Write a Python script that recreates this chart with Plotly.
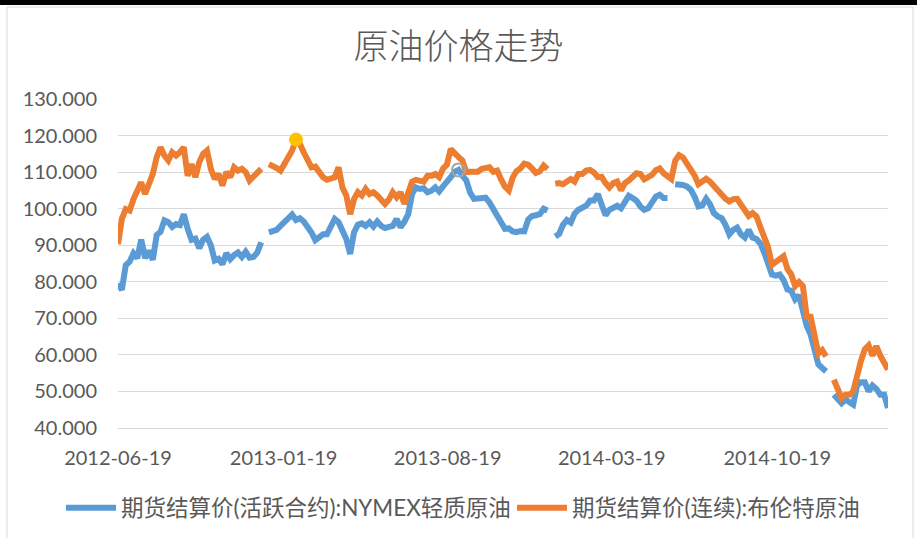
import plotly.graph_objects as go
import pandas as pd

# ---------------- data ----------------
START_DATE = "2012-06-19"
STEP_DAYS = 5

wti_nymex = [
    79.5, 77.8, 84.5, 85.5, 87.8, 86.5, 91.5, 86.5, 88.5, 86.0,
    92.8, 93.7, 96.8, 96.3, 95.0, 95.8, 95.5, 98.5, 94.5, 91.5,
    91.8, 89.2, 91.5, 92.3, 90.0, 85.8, 86.3, 84.8, 87.8, 86.2,
    87.3, 88.0, 86.8, 88.2, 86.6, 86.8, 88.0, 90.8, None, 93.5,
    93.8, 94.2, 95.3, 96.3, 97.2, 98.4, 96.9, 97.4, 96.5, 95.3,
    93.5, 91.4, 92.1, 93.0, 93.0, 94.9, 97.2, 96.3, 94.0, 91.7,
    87.6, 93.5, 95.6, 96.0, 95.3, 96.3, 95.1, 96.5, 95.3, 94.7,
    95.0, 95.3, 97.2, 94.9, 96.4, 98.5, 104.0, 105.8, 105.4, 105.6,
    104.5, 104.9, 105.8, 104.7, 106.1, 107.2, 108.6, 110.1, 110.6, 109.0,
    107.8, 104.4, 102.7, 102.8, 103.0, 103.0, 101.7, 99.6, 97.6, 96.3,
    94.5, 94.6, 93.8, 93.6, 93.9, 93.8, 97.0, 98.0, 98.2, 98.5,
    100.0, 99.5, None, 92.4, 93.1, 95.6, 96.9, 96.2, 98.6, 99.7,
    100.3, 100.8, 102.2, 102.2, 104.0, 101.0, 98.2, 99.7, 100.1, 100.8,
    100.1, 102.0, 103.5, 102.9, 102.2, 100.6, 99.7, 100.1, 102.0, 103.3,
    103.8, 102.9, 102.9, None, 106.7, 106.7, 106.5, 106.1, 105.2, 103.3,
    100.6, 100.9, 102.7, 101.2, 98.8, 97.9, 97.4, 95.6, 93.0, 94.2,
    94.8, 93.0, 92.1, 94.2, 92.1, 91.7, 90.5, 88.0, 84.3, 82.0,
    81.7, 82.0, 80.5, 77.9, 77.5, 75.2, 76.3, 72.4, 67.9, 65.6,
    60.7, 57.4, 56.4, 55.5, None, 49.1, 48.2, 46.8, 47.8, 47.0,
    46.4, 51.6, 52.5, 52.5, 50.0, 51.6, 50.7, 49.1, 49.1, 45.5,
]

brent = [
    90.3, 97.2, 99.9, 99.5, 102.6, 104.5, 107.2, 104.0, 107.2, 109.5,
    114.1, 116.8, 114.5, 113.2, 115.4, 114.5, 115.4, 116.8, 109.0, 112.2,
    108.6, 112.7, 115.0, 115.9, 110.9, 108.1, 109.5, 106.3, 110.0, 108.6,
    111.3, 110.4, 110.9, 110.0, 107.7, 108.8, 109.5, 110.9, None, 112.2,
    111.8, 111.1, 110.4, 112.2, 114.1, 115.9, 118.9, 117.7, 115.4, 113.6,
    111.3, 111.5, 110.0, 108.6, 107.9, 108.1, 108.6, 111.3, 105.8, 103.6,
    98.5, 102.6, 104.5, 103.6, 105.4, 104.0, 104.5, 103.6, 102.2, 101.3,
    102.5, 104.5, 103.1, 104.5, 101.3, 104.0, 107.4, 107.9, 107.7, 107.4,
    109.0, 109.0, 109.5, 108.6, 111.0, 112.0, 116.3, 115.0, 114.1, 113.2,
    110.0, 110.1, 110.1, 110.1, 110.9, 111.3, 111.3, 110.1, 110.4, 108.0,
    106.0, 105.0, 108.5, 110.3, 111.0, 112.3, 112.0, 111.0, 109.8, 110.2,
    111.8, 110.8, None, 106.8, 107.0, 106.7, 107.2, 108.1, 107.4, 109.5,
    109.5, 110.4, 110.6, 109.9, 108.6, 108.7, 107.0, 105.8, 107.0, 107.4,
    105.0, 107.0, 107.7, 108.9, 109.7, 109.5, 108.0, 108.6, 109.2, 110.5,
    111.0, 109.7, 109.1, 108.1, 113.1, 114.6, 114.0, 112.5, 110.6, 109.1,
    106.7, 107.3, 108.2, 107.4, 106.3, 105.2, 103.6, 102.7, 102.0, 102.6,
    102.7, 101.2, 99.2, 98.0, 98.8, 97.9, 95.0, 92.0, 89.5, 84.6,
    85.4, 86.2, 87.0, 83.5, 82.0, 78.8, 79.9, 78.8, 70.4, 70.4,
    64.2, 60.4, 61.3, 59.6, None, 53.2, 50.5, 48.2, 49.1, 49.1,
    50.0, 55.1, 58.3, 61.5, 62.6, 59.8, 62.4, 59.8, 57.8, 56.0,
]

x_tick_labels = ["2012-06-19", "2013-01-19", "2013-08-19", "2014-03-19", "2014-10-19"]
y_tick_values = [40, 50, 60, 70, 80, 90, 100, 110, 120, 130]

series_names = ["期货结算价(活跃合约):NYMEX轻质原油", "期货结算价(连续):布伦特原油"]
chart_title = "原油价格走势"

dates = pd.date_range(START_DATE, periods=len(wti_nymex), freq=f"{STEP_DAYS}D")

# ---------------- layout constants ----------------
W, H = 917, 538
ML, MR, MT, MB = 118, 29, 99, 110
PW, PH = W - ML - MR, H - MT - MB


def px_x(px):
    return (px - ML) / PW


def px_y(py):
    return (H - MB - py) / PH


BLUE = "#5B9BD5"
ORANGE = "#ED7D31"
TXT = "#595959"
GRID = "#D9D9D9"
FONT = "Lato, 'Noto Sans CJK SC', sans-serif"

fig = go.Figure()

fig.add_trace(go.Scatter(
    x=dates, y=wti_nymex, mode="lines", name=series_names[0],
    line=dict(color=BLUE, width=6), connectgaps=False, legend="legend",
))
fig.add_trace(go.Scatter(
    x=dates, y=brent, mode="lines", name=series_names[1],
    line=dict(color=ORANGE, width=6), connectgaps=False, legend="legend2",
))

# highlighted extremes
b_vals = [v if v is not None else -1 for v in brent]
w_vals = [v if v is not None else -1 for v in wti_nymex]
ib = b_vals.index(max(b_vals))
iw = w_vals.index(max(w_vals))
fig.add_trace(go.Scatter(
    x=[dates[ib]], y=[brent[ib]], mode="markers", showlegend=False,
    marker=dict(color="#FFC000", size=14, line=dict(width=0)),
))
fig.add_trace(go.Scatter(
    x=[dates[iw]], y=[wti_nymex[iw]], mode="markers", showlegend=False,
    marker=dict(symbol="circle-open", color="#A5A5A5", size=13, line=dict(width=2, color="#A5A5A5")),
))

legend_common = dict(
    orientation="h", xref="container", yref="container",
    xanchor="left", y=1 - 508 / H, yanchor="middle",
    font=dict(family=FONT, size=22.5, color=TXT),
    itemwidth=50, bgcolor="rgba(0,0,0,0)",
)

fig.update_layout(
    width=W, height=H,
    margin=dict(l=ML, r=MR, t=MT, b=MB, pad=0, autoexpand=False),
    paper_bgcolor="white", plot_bgcolor="white",
    title=dict(
        text=chart_title, x=0.5, xref="container", xanchor="center",
        y=1 - 47 / H, yref="container", yanchor="middle",
        font=dict(family="'Noto Sans CJK SC', sans-serif", size=35, color=TXT, weight=300),
    ),
    showlegend=True,
    legend=dict(legend_common, x=61 / W),
    legend2=dict(legend_common, x=512 / W),
    xaxis=dict(
        type="date", range=[dates[0], dates[-1]],
        tickvals=pd.to_datetime(x_tick_labels), ticktext=x_tick_labels,
        showgrid=False, zeroline=False, showline=True, linecolor=GRID, linewidth=1,
        ticks="", ticklabelstandoff=12,
        tickfont=dict(family=FONT, size=20, color=TXT),
    ),
    yaxis=dict(
        range=[40, 130], tickvals=y_tick_values, tickformat=".3f",
        showgrid=True, gridcolor=GRID, gridwidth=1, zeroline=False, showline=False,
        ticks="", ticklabelstandoff=20,
        tickfont=dict(family=FONT, size=20, color=TXT),
    ),
    shapes=[
        dict(type="rect", xref="paper", yref="paper",
             x0=px_x(0), x1=px_x(W), y0=px_y(5), y1=px_y(-2),
             fillcolor="black", line=dict(width=0), layer="above"),
        dict(type="rect", xref="paper", yref="paper",
             x0=px_x(7), x1=px_x(913), y0=px_y(H + 5), y1=px_y(7),
             fillcolor="rgba(0,0,0,0)", line=dict(color=GRID, width=1), layer="below"),
    ],
)

fig.write_html(
    "out.html",
    config={"displayModeBar": False},
    post_script="document.body.style.margin='0';document.body.style.overflow='hidden';",
)
